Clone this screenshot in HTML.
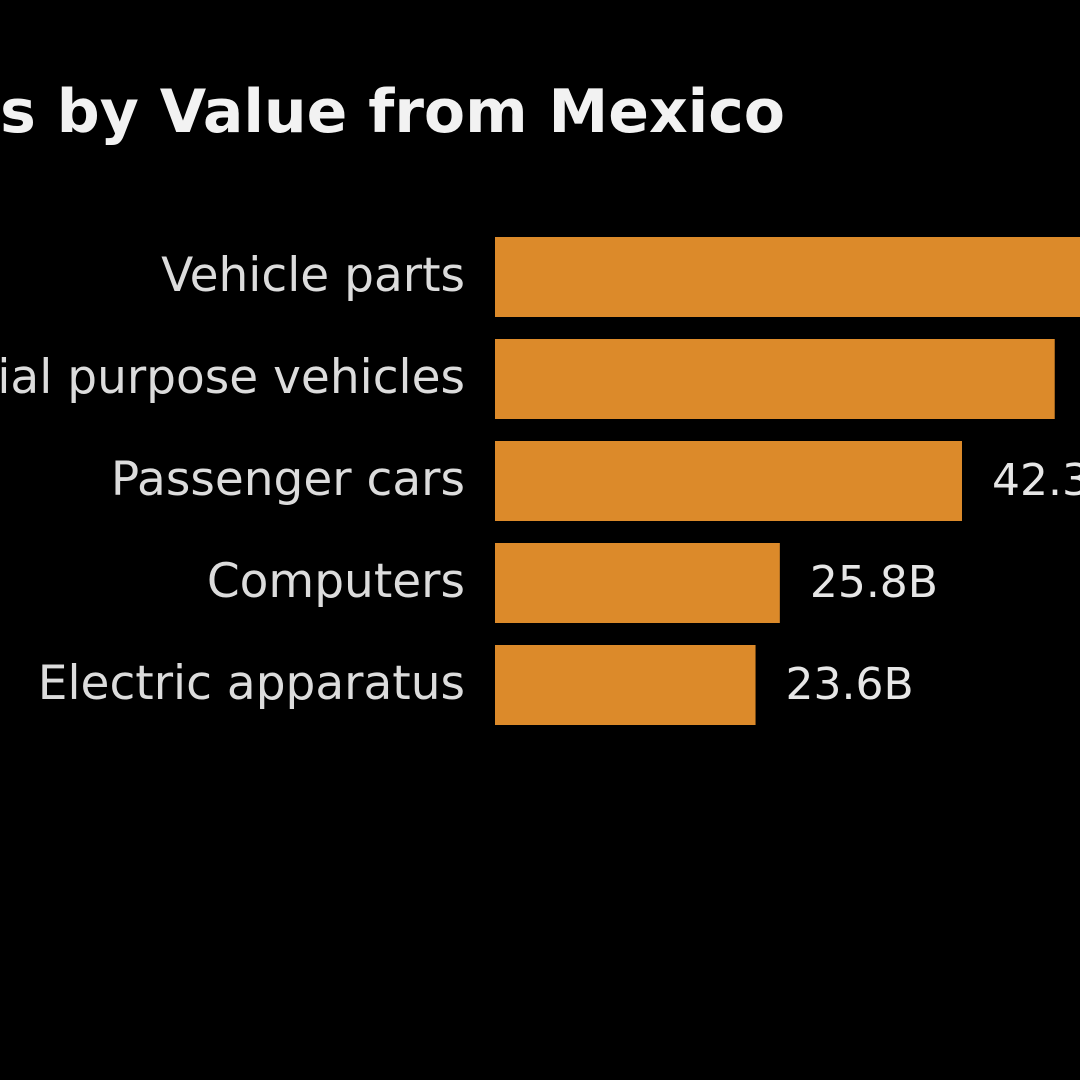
<!DOCTYPE html>
<html><head><meta charset="utf-8"><style>
html,body{margin:0;padding:0;background:#000;width:1080px;height:1080px;overflow:hidden}
svg{display:block}
text{font-family:"DejaVu Sans","Liberation Sans",sans-serif}
</style></head><body>
<svg id="chart" width="1080" height="1080">
<text x="785" y="132" text-anchor="end" fill="#f2f2f2" font-size="60" font-weight="bold">Top Imports by Value from Mexico</text>
<g id="bars"></g>
</svg>
<script>
const categories=["Vehicle parts","Special purpose vehicles","Passenger cars","Computers","Electric apparatus"];
const values=[62.0,50.7,42.3,25.8,23.6];
const valueLabels=["62.0B","50.7B","42.3B","25.8B","23.6B"];
const x0=495,scale=11.04,top0=237,pitch=102,bh=80;
const xs=v=>x0+v*scale;
const ys=i=>top0+i*pitch;
const g=document.getElementById('bars');
const NS="http://www.w3.org/2000/svg";
categories.forEach((c,i)=>{
  const r=document.createElementNS(NS,'rect');
  r.setAttribute('x',x0);r.setAttribute('y',ys(i));
  r.setAttribute('width',xs(values[i])-x0);r.setAttribute('height',bh);
  r.setAttribute('fill','#dc8a2a');
  
  
  g.appendChild(r);
  const t=document.createElementNS(NS,'text');
  t.setAttribute('x',465);t.setAttribute('y',ys(i)+bh/2+14);
  t.setAttribute('text-anchor','end');t.setAttribute('fill','#dcdcdc');t.setAttribute('font-size','47');
  t.textContent=c;
  
  
  g.appendChild(t);
  const v=document.createElementNS(NS,'text');
  v.setAttribute('x',xs(values[i])+30);v.setAttribute('y',ys(i)+bh/2+14);
  v.setAttribute('fill','#e6e6e6');v.setAttribute('font-size','44');
  v.textContent=valueLabels[i];
  
  
  g.appendChild(v);
});
</script>
</body></html>
